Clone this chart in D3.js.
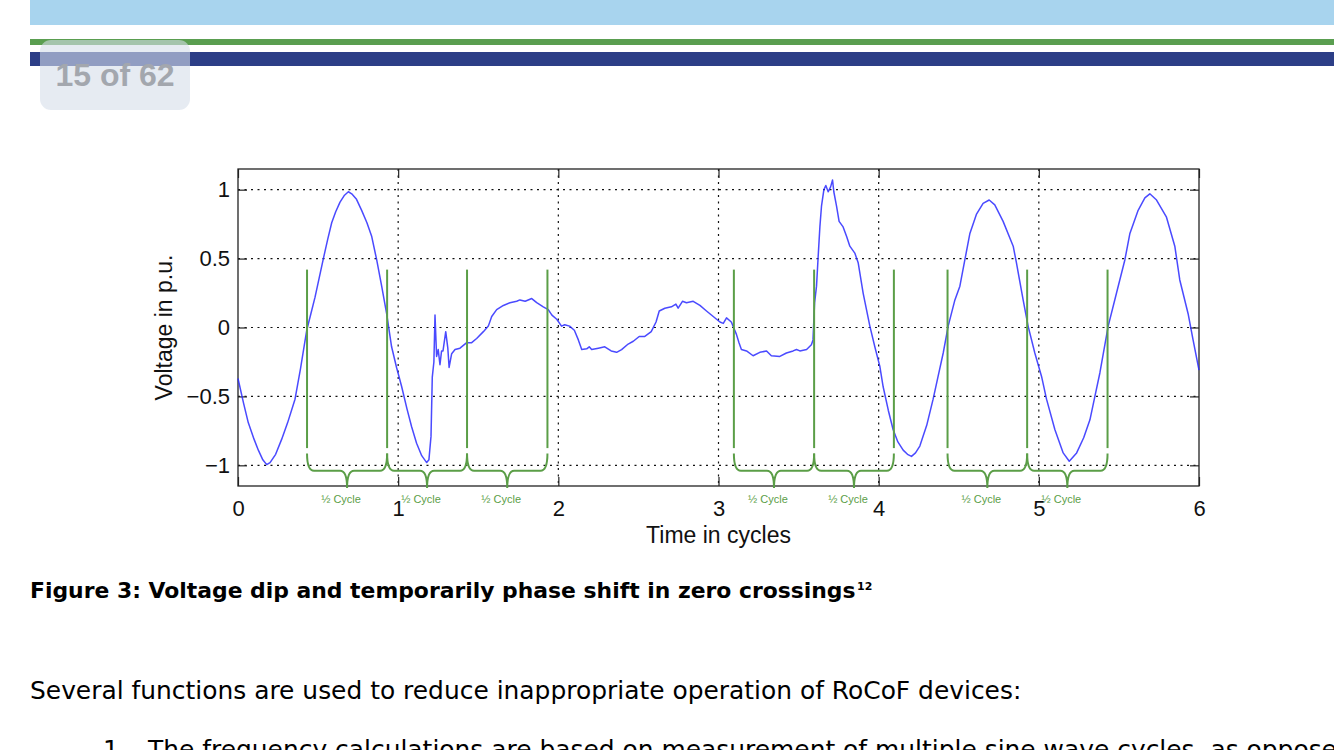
<!DOCTYPE html>
<html>
<head>
<meta charset="utf-8">
<script src="https://cdn.jsdelivr.net/npm/d3@7"></script>
<style>
  html, body { margin: 0; padding: 0; background: #ffffff; }
  svg { display: block; }
</style>
</head>
<body>
<svg id="chart" width="1334" height="750"></svg>
<script>
// ---------------- DATA ----------------
const time = [
  0.000,0.035,0.064,0.100,0.127,0.155,0.179,0.200,0.235,0.273,0.310,0.356,0.390,0.429,0.455,0.481,0.507,0.533,0.560,0.585,
  0.610,0.637,0.665,0.689,0.710,0.740,0.772,0.805,0.835,0.866,0.897,0.928,0.959,0.990,1.022,1.055,1.084,1.115,1.147,1.178,
  1.192,1.205,1.213,1.223,1.230,1.240,1.250,1.261,1.271,1.280,1.297,1.310,1.318,1.334,1.355,1.386,1.428,1.459,1.490,1.532,
  1.563,1.584,1.615,1.657,1.698,1.740,1.760,1.793,1.834,1.865,1.906,1.937,1.960,1.990,2.020,2.040,2.070,2.100,2.125,2.146,
  2.177,2.193,2.208,2.250,2.290,2.330,2.364,2.395,2.436,2.468,2.505,2.540,2.580,2.610,2.630,2.665,2.706,2.734,2.748,2.775,
  2.800,2.842,2.884,2.925,2.967,3.009,3.030,3.050,3.080,3.112,3.128,3.143,3.175,3.216,3.258,3.300,3.330,3.383,3.424,3.466,
  3.487,3.508,3.550,3.580,3.590,3.600,3.612,3.622,3.633,3.643,3.658,3.670,3.685,3.700,3.712,3.720,3.737,3.753,3.778,3.800,
  3.820,3.851,3.872,3.903,3.945,3.976,4.007,4.028,4.060,4.090,4.120,4.153,4.180,4.205,4.230,4.257,4.300,4.340,4.370,4.403,
  4.434,4.476,4.507,4.538,4.569,4.610,4.652,4.690,4.725,4.777,4.840,4.860,4.902,4.933,4.975,5.017,5.048,5.100,5.152,5.190,
  5.236,5.280,5.319,5.350,5.381,5.433,5.485,5.537,5.568,5.620,5.662,5.693,5.735,5.797,5.849,5.880,5.932,5.963,6.000
];
const voltage = [
  -0.37,-0.55,-0.69,-0.81,-0.89,-0.96,-0.995,-0.98,-0.92,-0.81,-0.69,-0.52,-0.30,-0.02,0.10,0.22,0.36,0.50,0.64,0.76,
  0.84,0.91,0.96,0.985,0.97,0.93,0.85,0.76,0.66,0.49,0.30,0.10,-0.14,-0.29,-0.43,-0.59,-0.72,-0.84,-0.93,-0.98,
  -0.96,-0.79,-0.36,-0.25,0.09,-0.21,-0.16,-0.27,-0.17,-0.17,-0.03,-0.15,-0.29,-0.19,-0.16,-0.15,-0.11,-0.11,-0.08,-0.03,
  0.01,0.08,0.13,0.16,0.18,0.19,0.20,0.19,0.21,0.18,0.15,0.13,0.09,0.06,0.01,0.02,0.01,-0.02,-0.09,-0.16,
  -0.155,-0.14,-0.16,-0.15,-0.14,-0.17,-0.18,-0.16,-0.12,-0.10,-0.065,-0.065,-0.03,0.04,0.12,0.14,0.15,0.17,0.14,0.19,
  0.18,0.19,0.16,0.12,0.08,0.04,0.03,0.07,0.04,-0.05,-0.11,-0.16,-0.17,-0.205,-0.18,-0.17,-0.205,-0.21,-0.185,-0.17,
  -0.16,-0.17,-0.16,-0.125,-0.09,0.18,0.30,0.51,0.73,0.88,1.00,1.03,0.985,1.02,1.07,0.985,0.88,0.77,0.73,0.66,
  0.59,0.54,0.47,0.25,0.01,-0.14,-0.28,-0.43,-0.60,-0.74,-0.83,-0.89,-0.92,-0.935,-0.91,-0.86,-0.71,-0.52,-0.36,-0.185,
  0.01,0.20,0.30,0.49,0.68,0.82,0.90,0.925,0.89,0.77,0.59,0.47,0.20,0.01,-0.185,-0.355,-0.52,-0.74,-0.91,-0.97,
  -0.91,-0.80,-0.67,-0.50,-0.33,0.01,0.25,0.49,0.68,0.85,0.94,0.97,0.925,0.80,0.59,0.345,0.10,-0.09,-0.31
];
// zero-crossing markers (time in cycles)
const markerTimes = [0.431, 0.931, 1.430, 1.932, 3.096, 3.597, 4.095, 4.430, 4.927, 5.429];
// half-cycle braces: pairs of marker indices
const bracePairs = [[0,1],[1,2],[2,3],[4,5],[5,6],[7,8],[8,9]];
const braceLabel = "½ Cycle";
const xTicks = [0, 1, 2, 3, 4, 5, 6];
const xTickLabels = ["0", "1", "2", "3", "4", "5", "6"];
const yTicks = [-1, -0.5, 0, 0.5, 1];
const yTickLabels = ["\u22121", "\u22120.5", "0", "0.5", "1"];
const xTitle = "Time in cycles";
const yTitle = "Voltage in p.u.";
const pageBadge = "15 of 62";
const captionText = "Figure 3: Voltage dip and temporarily phase shift in zero crossings";
const captionSup = "12";
const bodyLine1 = "Several functions are used to reduce inappropriate operation of RoCoF devices:";
const bodyLine2Num = "1.";
const bodyLine2 = "The frequency calculations are based on measurement of multiple sine wave cycles, as opposed";

// ---------------- LAYOUT ----------------
const svg = d3.select("#chart");
const W = 1334, H = 750;
const plot = { left: 238, right: 1199, top: 169, bottom: 486 };
const x = d3.scaleLinear().domain([0, 6]).range([plot.left, plot.right]);
const y = d3.scaleLinear().domain([-1.15, 1.15]).range([plot.bottom, plot.top]);

// marker/brace levels in data units
const markerTop = 0.42, markerBottom = -0.875;
const braceTop = -0.915, braceMid = -1.04, braceTip = -1.165;

const green = "#5b9e47";
const blue = "#2a2aff";
const sansFont = "'Liberation Sans', Arial, Helvetica, sans-serif";
const docFont = "'DejaVu Sans', Verdana, Tahoma, sans-serif";

svg.append("rect").attr("width", W).attr("height", H).attr("fill", "#fff");

// ---------------- HEADER ----------------
svg.append("rect").attr("x", 30).attr("y", 0).attr("width", W - 30).attr("height", 25).attr("fill", "#a8d4ee");
svg.append("rect").attr("x", 30).attr("y", 39).attr("width", W - 30).attr("height", 6).attr("fill", "#5a9e50");
svg.append("rect").attr("x", 30).attr("y", 52).attr("width", W - 30).attr("height", 14).attr("fill", "#2c3e87");
svg.append("rect").attr("x", 40).attr("y", 40).attr("width", 150).attr("height", 70).attr("rx", 11)
  .attr("fill", "rgb(214,221,234)").attr("fill-opacity", 0.6);
svg.append("text").attr("x", 115).attr("y", 86).attr("text-anchor", "middle")
  .attr("font-family", sansFont).attr("font-weight", "bold").attr("font-size", 32)
  .attr("fill", "#a3a7ae").text(pageBadge);

// ---------------- GRID ----------------
const g = svg.append("g");
const gridStyle = sel => sel.attr("stroke", "#111").attr("stroke-width", 1.2).attr("stroke-dasharray", "2,4.5");
g.selectAll(".vgrid").data(xTicks.filter(d => d > 0 && d < 6)).enter().append("line")
  .attr("x1", d => x(d)).attr("x2", d => x(d)).attr("y1", plot.top).attr("y2", plot.bottom).call(gridStyle);
g.selectAll(".hgrid").data(yTicks).enter().append("line")
  .attr("y1", d => y(d)).attr("y2", d => y(d)).attr("x1", plot.left).attr("x2", plot.right).call(gridStyle);

// ---------------- AXES ----------------
const axisColor = "#222";
function styleAxis(sel, fs) {
  sel.select(".domain").remove();
  sel.selectAll(".tick line").attr("stroke", axisColor).attr("stroke-width", 1.2);
  sel.selectAll(".tick text").attr("fill", "#111").attr("font-family", sansFont).attr("font-size", fs);
}
const xAxis = d3.axisBottom(x).tickValues(xTicks).tickFormat((d, i) => xTickLabels[i]).tickSizeInner(-9).tickSizeOuter(0).tickPadding(14);
svg.append("g").attr("transform", `translate(0,${plot.bottom})`).call(xAxis).call(s => styleAxis(s, 22));
svg.append("g").attr("transform", `translate(0,${plot.top})`)
  .call(d3.axisTop(x).tickValues(xTicks).tickFormat("").tickSizeInner(-9).tickSizeOuter(0)).call(s => styleAxis(s, 22));
const yAxis = d3.axisLeft(y).tickValues(yTicks).tickFormat((d, i) => yTickLabels[i]).tickSizeInner(-9).tickSizeOuter(0).tickPadding(8);
svg.append("g").attr("transform", `translate(${plot.left},0)`).call(yAxis).call(s => styleAxis(s, 22));
svg.append("g").attr("transform", `translate(${plot.right},0)`)
  .call(d3.axisRight(y).tickValues(yTicks).tickFormat("").tickSizeInner(-9).tickSizeOuter(0)).call(s => styleAxis(s, 22));

svg.append("rect").attr("x", plot.left).attr("y", plot.top)
  .attr("width", plot.right - plot.left).attr("height", plot.bottom - plot.top)
  .attr("fill", "none").attr("stroke", axisColor).attr("stroke-width", 1.3);

// ---------------- WAVEFORM ----------------
const series = time.map((t, i) => ({ t, v: voltage[i] }));
const line = d3.line().x(d => x(d.t)).y(d => y(d.v)).curve(d3.curveLinear);
svg.append("path").datum(series).attr("d", line)
  .attr("fill", "none").attr("stroke", blue).attr("stroke-width", 1.5)
  .attr("stroke-linejoin", "round").attr("opacity", 0.85);

// ---------------- MARKERS & BRACES ----------------
svg.selectAll(".marker").data(markerTimes).enter().append("line")
  .attr("x1", d => x(d)).attr("x2", d => x(d))
  .attr("y1", y(markerTop)).attr("y2", y(markerBottom))
  .attr("stroke", green).attr("stroke-width", 2);

function bracePath(t1, t2) {
  const x1 = x(t1), x2 = x(t2), xc = (x1 + x2) / 2;
  const yT = y(braceTop), yM = y(braceMid), yP = y(braceTip);
  const r = 7;
  return `M${x1},${yT} Q${x1},${yM} ${x1 + r},${yM} L${xc - r},${yM} Q${xc},${yM} ${xc},${yP}` +
         ` Q${xc},${yM} ${xc + r},${yM} L${x2 - r},${yM} Q${x2},${yM} ${x2},${yT}`;
}
svg.selectAll(".brace").data(bracePairs).enter().append("path")
  .attr("d", d => bracePath(markerTimes[d[0]], markerTimes[d[1]]))
  .attr("fill", "none").attr("stroke", green).attr("stroke-width", 2);
svg.selectAll(".braceLabel").data(bracePairs).enter().append("text")
  .attr("x", d => (x(markerTimes[d[0]]) + x(markerTimes[d[1]])) / 2 - 6)
  .attr("y", 503).attr("text-anchor", "middle")
  .attr("font-family", sansFont).attr("font-size", 11).attr("fill", green)
  .text(braceLabel);

// ---------------- TITLES ----------------
svg.append("text").attr("x", (plot.left + plot.right) / 2).attr("y", 543)
  .attr("text-anchor", "middle").attr("font-family", sansFont).attr("font-size", 23).attr("fill", "#111")
  .text(xTitle);
svg.append("text").attr("transform", `translate(172,${(plot.top + plot.bottom) / 2}) rotate(-90)`)
  .attr("text-anchor", "middle").attr("font-family", sansFont).attr("font-size", 23).attr("fill", "#111")
  .text(yTitle);

// ---------------- CAPTION & BODY ----------------
function fitSize(textSel, target) {
  const w = textSel.node().getComputedTextLength();
  const fs = parseFloat(textSel.attr("font-size"));
  textSel.attr("font-size", fs * target / w);
  return fs * target / w;
}
const cap = svg.append("text").attr("x", 30).attr("y", 598)
  .attr("font-family", docFont).attr("font-weight", "bold").attr("font-size", 18).attr("fill", "#000")
  .text(captionText);
fitSize(cap, 826);
svg.append("text").attr("x", 30 + 827).attr("y", 590)
  .attr("font-family", docFont).attr("font-weight", "bold").attr("font-size", 11).attr("fill", "#000")
  .text(captionSup);

const b1 = svg.append("text").attr("x", 30).attr("y", 699)
  .attr("font-family", docFont).attr("font-size", 20).attr("fill", "#000")
  .text(bodyLine1);
const bodyFs = fitSize(b1, 992);
svg.append("text").attr("x", 103).attr("y", 758)
  .attr("font-family", docFont).attr("font-size", bodyFs).attr("fill", "#000").text(bodyLine2Num);
svg.append("text").attr("x", 148).attr("y", 758)
  .attr("font-family", docFont).attr("font-size", bodyFs).attr("fill", "#000").text(bodyLine2);
</script>
</body>
</html>
